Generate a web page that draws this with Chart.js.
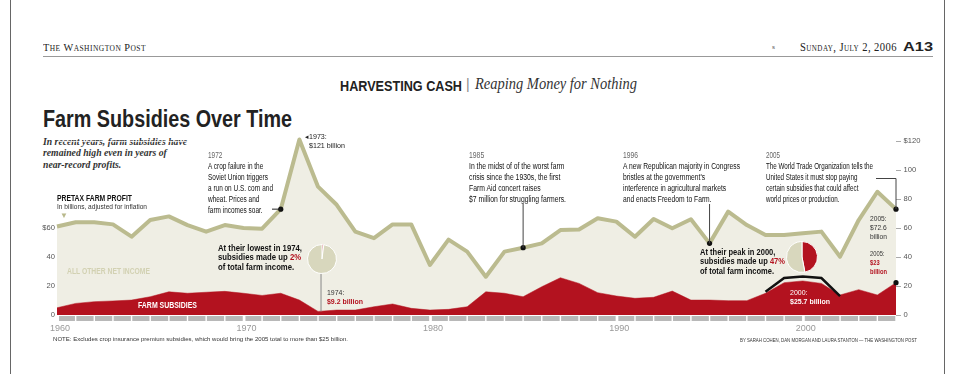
<!DOCTYPE html>
<html>
<head>
  <meta charset="utf-8">
  <title>Farm Subsidies Over Time</title>
  <script src="https://cdn.jsdelivr.net/npm/chart.js"></script>
  <style>
    body { margin: 0; width: 959px; height: 374px; position: relative; overflow: hidden; background: #fff; color: #222;
           font-family: "Liberation Sans", Arial, sans-serif; }
    .abs { position: absolute; white-space: nowrap; }
    .frame { position: absolute; top: 0; width: 0; height: 374px; border-left: 1px solid #666; }
    .serifcaps { font-family: "Liberation Serif", serif; font-variant: small-caps; letter-spacing: 0.5px; }
    .note { font-size: 8.4px; line-height: 11px; color: #111; }
    .note .yr { color: #666; }
    .big { font-weight: bold; font-size: 9.6px; line-height: 9.4px; color: #111; }
    .red { color: #b3121f; }
    .small { font-size: 7.2px; line-height: 8.8px; }
    #main { position: absolute; left: 0; top: 0; }
    .pie { position: absolute; }
  </style>
</head>
<body>
  <div class="frame" style="left:10px"></div>
  <div class="frame" style="left:944px"></div>

  <div class="abs serifcaps" data-w="103" style="left:43px;top:41px;font-size:11px">The Washington Post</div>
  <div class="abs" style="left:772px;top:44px;font-size:6px;color:#555">s</div>
  <div class="abs serifcaps" data-w="97" style="left:800px;top:40px;font-size:12px">Sunday, July 2, 2006</div>
  <div class="abs" data-w="30" style="left:903px;top:40px;font-weight:bold;font-size:12px">A13</div>
  <div class="abs" style="left:43px;top:56px;width:890px;border-top:1px solid #999"></div>

  <div class="abs" data-w="122" style="left:340px;top:77px;font-weight:bold;font-size:15px">HARVESTING CASH</div>
  <div class="abs" style="left:466px;top:76px;font-size:14px;color:#888">|</div>
  <div class="abs" data-w="162" style="left:475px;top:75px;font:italic 16px 'Liberation Serif', serif;color:#333">Reaping Money for Nothing</div>

  <div class="abs" data-w="249" style="left:43px;top:105px;font-weight:bold;font-size:24px">Farm Subsidies Over Time</div>
  <div class="abs" data-w="144" style="left:43px;top:136px;font:italic bold 10.6px/11.4px 'Liberation Serif', serif;color:#333">
    In recent years, farm subsidies have<br>remained high even in years of<br>near-record profits.</div>

  <div id="wrap" style="position:absolute;left:0;top:0;width:959px;height:374px">
    <canvas id="main" width="959" height="374"></canvas>
  </div>

  <div class="abs note" data-w="65" style="left:208px;top:150px"><span class="yr">1972</span><br>A crop failure in the<br>Soviet Union triggers<br>a run on U.S. corn and<br>wheat. Prices and<br>farm incomes soar.</div>
  <div class="abs small" data-w="40" style="left:305px;top:133px">&#9666;1973:<br>&nbsp;&nbsp;$121 billion</div>
  <div class="abs note" data-w="97" style="left:469px;top:150px"><span class="yr">1985</span><br>In the midst of of the worst farm<br>crisis since the 1930s, the first<br>Farm Aid concert raises<br>$7 million for struggling farmers.</div>
  <div class="abs note" data-w="117" style="left:623px;top:150px"><span class="yr">1996</span><br>A new Republican majority in Congress<br>bristles at the government's<br>interference in agricultural markets<br>and enacts Freedom to Farm.</div>
  <div class="abs note" data-w="107" style="left:766px;top:150px"><span class="yr">2005</span><br>The World Trade Organization tells the<br>United States it must stop paying<br>certain subsidies that could affect<br>world prices or production.</div>

  <div class="abs" data-w="75" style="left:57px;top:193px;font-weight:bold;font-size:8.8px;color:#111">PRETAX FARM PROFIT</div>
  <div class="abs small" data-w="90" style="left:57px;top:203px;color:#333">In billions, adjusted for inflation</div>
  <div class="abs" style="left:60px;top:211px;font-size:8px;color:#b9b98c">&#9660;</div>
  <div class="abs" data-w="83" style="left:67px;top:266px;font-weight:bold;font-size:9px;color:#d2d1b2">ALL OTHER NET INCOME</div>
  <div class="abs" data-w="59" style="left:138px;top:300px;font-weight:bold;font-size:8.6px;color:#fff">FARM SUBSIDIES</div>

  <div class="abs big" data-w="84" style="left:218px;top:243px">At their lowest in 1974,<br>subsidies made up <span class="red">2%</span><br>of total farm income.</div>
  <div class="abs small" data-w="36" style="left:327px;top:289px;color:#333">1974:<br><b class="red">$9.2 billion</b></div>

  <div class="abs big" data-w="85" style="left:700px;top:247px">At their peak in 2000,<br>subsidies made up <span class="red">47%</span><br>of total farm income.</div>
  <div class="abs small" data-w="40" style="left:790px;top:289px;color:#fff">2000:<br><b>$25.7 billion</b></div>

  <div class="abs small" data-w="17" style="left:870px;top:215px;color:#333">2005:<br>$72.6<br>billion</div>
  <div class="abs small" data-w="17" style="left:870px;top:250px;color:#333">2005:<br><b class="red">$23<br>billion</b></div>

  <div class="abs" data-w="295" style="left:53px;top:336px;font-size:6px;color:#333">NOTE: Excludes crop insurance premium subsidies, which would bring the 2005 total to more than $25 billion.</div>
  <div class="abs" data-w="177" style="left:740px;top:337px;font-size:5.4px;color:#333">BY SARAH COHEN, DAN MORGAN AND LAURA STANTON &mdash; THE WASHINGTON POST</div>

  <canvas class="pie" id="pieLow" width="30" height="30" style="left:307px;top:244px"></canvas>
  <canvas class="pie" id="piePeak" width="32" height="32" style="left:786px;top:241px"></canvas>

  <script>
    const years = [1960, 1961, 1962, 1963, 1964, 1965, 1966, 1967, 1968, 1969,
                   1970, 1971, 1972, 1973, 1974, 1975, 1976, 1977, 1978, 1979,
                   1980, 1981, 1982, 1983, 1984, 1985, 1986, 1987, 1988, 1989,
                   1990, 1991, 1992, 1993, 1994, 1995, 1996, 1997, 1998, 1999,
                   2000, 2001, 2002, 2003, 2004, 2005];
    // pretax farm profit, billions, inflation adjusted
    const profit = [61, 64, 64, 62.5, 54, 65.5, 68, 62, 57.5, 62,
                    60, 59.5, 73, 121, 88.5, 76, 57.5, 53, 62.5, 62.5,
                    34.5, 52, 43.7, 26.4, 43.7, 46.4, 49.4, 58.6, 59, 66.7,
                    64.4, 54, 66.2, 59.8, 66, 49.4, 71.3, 62, 55.2, 55.2,
                    56.3, 57.5, 40.2, 65.5, 85, 73];
    const subsidies = [5, 8, 9.2, 9.7, 10.3, 12.6, 16, 15, 15.7, 16.3,
                       15, 13.5, 15, 10.3, 2.5, 3.4, 3.4, 5.7, 7.6, 4.6,
                       3.4, 3.9, 5.7, 16, 15, 12.6, 19.5, 25.7, 21.8, 15.4,
                       13.1, 11.5, 12.2, 16.5, 10.3, 10.3, 9.9, 9.9, 15, 22.3,
                       23.5, 21.8, 13.8, 17.5, 13.8, 22.3];
    // outline over the 2000 peak
    const peakOutline = [null, null, null, null, null, null, null, null, null, null,
                         null, null, null, null, null, null, null, null, null, null,
                         null, null, null, null, null, null, null, null, null, null,
                         null, null, null, null, null, null, null, null, 16, 25.5,
                         26.6, 25.5, 13, null, null, null];
    const profitDots = [1972, 1985, 1995, 2005];
    const subsidyDots = [2005];
    const yTicks = [0, 20, 40, 60, 80, 100, 120];
    const shareLow = [2, 98];   // 1974 subsidies vs other income, %
    const sharePeak = [47, 53]; // 2000

    const OLIVE = '#bbbb8f', BEIGE = '#efeee4', RED = '#b3121f';
    Chart.defaults.font.family = '"Liberation Sans", Arial, sans-serif';

    // squeeze text blocks to the width they have in the print graphic
    document.querySelectorAll('[data-w]').forEach(el => {
      const w = el.getBoundingClientRect().width;
      el.style.transformOrigin = '0 0';
      el.style.transform = 'scaleX(' + (el.dataset.w / w) + ')';
    });

    const decor = {
      id: 'decor',
      beforeDatasetsDraw(chart) {
        const {ctx, chartArea, scales: {x}} = chart;
        ctx.save();
        ctx.fillStyle = '#b8b8b8';
        for (let i = 0; i < years.length - 1; i++) {
          const a = x.getPixelForValue(i), b = x.getPixelForValue(i + 1);
          const gl = years[i] % 10 === 0 ? 2 : 0.7;
          ctx.fillRect(a + gl, chartArea.bottom + 1, b - a - gl - 0.7, 5);
        }
        ctx.restore();
      },
      afterDatasetsDraw(chart) {
        const {ctx} = chart;
        const at = (ds, yr) => chart.getDatasetMeta(ds).data[years.indexOf(yr)];
        const seg = (pts, color) => {
          ctx.beginPath();
          ctx.moveTo(pts[0][0], pts[0][1]);
          pts.slice(1).forEach(p => ctx.lineTo(p[0], p[1]));
          ctx.strokeStyle = color;
          ctx.stroke();
        };
        ctx.save();
        ctx.lineWidth = 1;
        let p = at(2, 1972);
        seg([[272, p.y], [p.x, p.y]], '#222');
        p = at(2, 1985);
        seg([[p.x, 204], [p.x, p.y]], '#444');
        p = at(2, 1995);
        seg([[p.x, 204], [p.x, p.y]], '#444');
        p = at(2, 2005);
        seg([[876, 178.5], [p.x, 178.5], [p.x, p.y]], '#444');
        p = at(1, 1974);
        seg([[p.x + 3, 272], [p.x + 3, p.y]], '#888');
        ctx.restore();
      }
    };

    new Chart(document.getElementById('main'), {
      type: 'line',
      data: {
        labels: years,
        datasets: [
          {
            data: peakOutline,
            borderColor: '#111',
            borderWidth: 2.5,
            pointRadius: 0,
            fill: false,
            tension: 0
          },
          {
            data: subsidies,
            borderColor: RED,
            borderWidth: 0.5,
            backgroundColor: RED,
            fill: 'origin',
            tension: 0,
            pointRadius: c => subsidyDots.includes(years[c.dataIndex]) ? 2.6 : 0,
            pointBackgroundColor: '#111',
            pointBorderWidth: 0
          },
          {
            data: profit,
            borderColor: OLIVE,
            borderWidth: 4,
            borderJoinStyle: 'round',
            backgroundColor: BEIGE,
            fill: 'origin',
            tension: 0,
            clip: false,
            pointRadius: c => profitDots.includes(years[c.dataIndex]) ? 2.6 : 0,
            pointBackgroundColor: '#111',
            pointBorderWidth: 0
          }
        ]
      },
      options: {
        responsive: false,
        animation: false,
        layout: { padding: { left: 33, right: 36, top: 141, bottom: 30 } },
        plugins: { legend: { display: false }, tooltip: { enabled: false } },
        scales: {
          x: {
            grid: { display: false, drawTicks: false },
            border: { display: false },
            afterFit: s => { s.height = 29; },
            ticks: {
              autoSkip: false, maxRotation: 0, padding: 8, labelOffset: 3,
              color: '#999', font: { size: 9 },
              callback: (v, i) => years[i] % 10 === 0 ? String(years[i]) : ''
            }
          },
          yl: {
            position: 'left', min: 0, max: 120,
            afterBuildTicks: s => { s.ticks = yTicks.map(v => ({ value: v })); },
            afterFit: s => { s.width = 24; },
            grid: { display: false, drawTicks: false },
            border: { display: false },
            ticks: {
              padding: 2, color: '#555', font: { size: 7.6 },
              callback: v => v > 60 ? '' : (v === 60 ? '$60' : String(v))
            }
          },
          y: {
            position: 'right', min: 0, max: 120, z: 1,
            afterBuildTicks: s => { s.ticks = yTicks.map(v => ({ value: v })); },
            afterFit: s => { s.width = 27; },
            grid: { color: 'rgba(255,255,255,0.75)', lineWidth: 1, tickColor: '#aaa', tickLength: 5 },
            border: { display: false },
            ticks: {
              padding: 2.5, color: '#555', font: { size: 7.6 }, crossAlign: 'near',
              callback: v => v === 120 ? '$120' : String(v)
            }
          }
        }
      },
      plugins: [decor]
    });

    function pie(id, values) {
      new Chart(document.getElementById(id), {
        type: 'pie',
        data: { labels: ['Subsidies', 'Other'], datasets: [{ data: values, backgroundColor: [RED, '#d8d7bd'], borderColor: '#fff', borderWidth: 1 }] },
        options: { responsive: false, animation: false, plugins: { legend: { display: false }, tooltip: { enabled: false } } }
      });
    }
    pie('pieLow', shareLow);
    pie('piePeak', sharePeak);
  </script>
</body>
</html>
